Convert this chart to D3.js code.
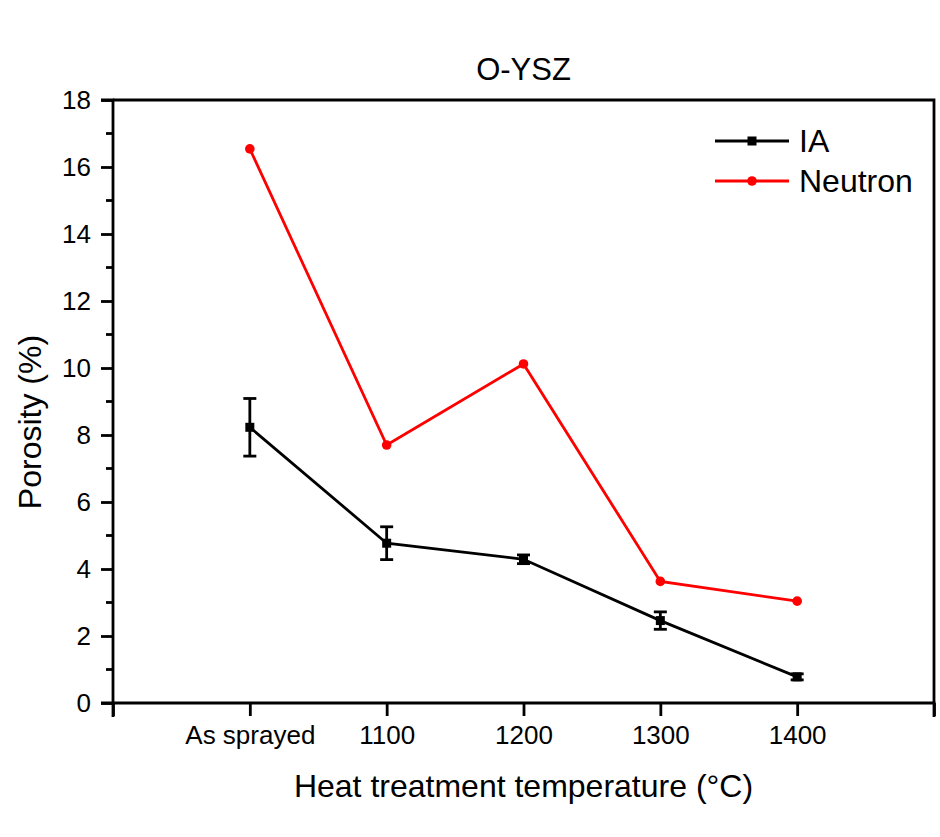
<!DOCTYPE html>
<html>
<head>
<meta charset="utf-8">
<script src="https://cdn.jsdelivr.net/npm/d3@7"></script>
<style>
  body { margin: 0; background: #fff; }
  svg { display: block; font-family: Arial, "Liberation Sans", sans-serif; }
</style>
</head>
<body>
<div id="chart"></div>
<script>
// categories along the x axis
const categories = ['As sprayed', '1100', '1200', '1300', '1400'];

// porosity (%) values
const iaValues = [8.23, 4.77, 4.29, 2.46, 0.78];
const iaErrors = [0.86, 0.49, 0.13, 0.26, 0.09];
const neutronValues = [16.54, 7.70, 10.12, 3.63, 3.04];

const yTicks = [0, 2, 4, 6, 8, 10, 12, 14, 16, 18];

const width = 940, height = 837;
const plotLeft = 113, plotRight = 934, plotTop = 100, plotBottom = 703;
const lw = 2.8;

let svg = d3.select('#chart')
    .append('svg')
    .attr('width', width)
    .attr('height', height);

// index 1..5 for categories, 0 and 6 are the frame ends
let x = d3.scaleLinear().domain([0, categories.length + 1]).range([plotLeft, plotRight]);
let y = d3.scaleLinear().domain([0, 18]).range([plotBottom, plotTop]);

// frame (top + right, no ticks)
svg.append('path')
    .attr('d', `M${plotLeft},${plotTop}H${plotRight}V${plotBottom}`)
    .attr('fill', 'none')
    .attr('stroke', '#000')
    .attr('stroke-width', lw);

// y axis, major ticks
let yAxis = d3.axisLeft(y)
    .tickValues(yTicks)
    .tickSize(12)
    .tickPadding(10)
    .tickFormat(d3.format('d'));

let gy = svg.append('g')
    .attr('transform', `translate(${plotLeft},0)`)
    .call(yAxis);

// minor y ticks
gy.selectAll('.minor')
    .data(d3.range(1, 18, 2))
    .enter()
    .append('line')
    .attr('class', 'minor')
    .attr('x1', -7).attr('x2', 0)
    .attr('y1', d => y(d)).attr('y2', d => y(d));

// x axis
let xAxis = d3.axisBottom(x)
    .tickValues(d3.range(0, categories.length + 2))
    .tickSize(13)
    .tickPadding(10)
    .tickFormat(d => (d >= 1 && d <= categories.length) ? categories[d - 1] : '');

let gx = svg.append('g')
    .attr('transform', `translate(0,${plotBottom})`)
    .call(xAxis);

[gx, gy].forEach(g => {
    g.select('.domain').attr('stroke-width', lw);
    g.selectAll('line').attr('stroke', '#000').attr('stroke-width', lw);
    g.selectAll('text').attr('fill', '#000').style('font-size', '26px')
        .style('font-family', 'Arial, "Liberation Sans", sans-serif');
});
// y-axis domain runs down past the x axis like the frame corner
gy.select('.domain').attr('d', `M-12,${plotTop}H0V${plotBottom + 14}`);
gx.select('.domain').attr('d', `M${plotLeft - 12},0H${plotRight}V14`);

// lines
let line = d3.line()
    .x((d, i) => x(i + 1))
    .y(d => y(d));

svg.append('path')
    .datum(neutronValues)
    .attr('d', line)
    .attr('fill', 'none')
    .attr('stroke', '#ff0000')
    .attr('stroke-width', lw);

svg.append('path')
    .datum(iaValues)
    .attr('d', line)
    .attr('fill', 'none')
    .attr('stroke', '#000')
    .attr('stroke-width', lw);

// error bars for IA
let eb = svg.append('g').attr('class', 'errorbars')
    .selectAll('g')
    .data(iaValues)
    .enter()
    .append('g');

eb.append('line')
    .attr('x1', (d, i) => x(i + 1)).attr('x2', (d, i) => x(i + 1))
    .attr('y1', (d, i) => y(d + iaErrors[i]))
    .attr('y2', (d, i) => y(d - iaErrors[i]));
eb.append('line')
    .attr('x1', (d, i) => x(i + 1) - 6.5).attr('x2', (d, i) => x(i + 1) + 6.5)
    .attr('y1', (d, i) => y(d + iaErrors[i]))
    .attr('y2', (d, i) => y(d + iaErrors[i]));
eb.append('line')
    .attr('x1', (d, i) => x(i + 1) - 6.5).attr('x2', (d, i) => x(i + 1) + 6.5)
    .attr('y1', (d, i) => y(d - iaErrors[i]))
    .attr('y2', (d, i) => y(d - iaErrors[i]));
eb.selectAll('line').attr('stroke', '#000').attr('stroke-width', lw);

// markers
svg.append('g')
    .selectAll('rect')
    .data(iaValues)
    .enter()
    .append('rect')
    .attr('x', (d, i) => x(i + 1) - 4.5)
    .attr('y', d => y(d) - 4.5)
    .attr('width', 9)
    .attr('height', 9)
    .attr('fill', '#000');

svg.append('g')
    .selectAll('circle')
    .data(neutronValues)
    .enter()
    .append('circle')
    .attr('cx', (d, i) => x(i + 1))
    .attr('cy', d => y(d))
    .attr('r', 4.8)
    .attr('fill', '#ff0000');

// legend
let legend = svg.append('g').attr('class', 'legend');
let legendItems = [
    { name: 'IA', color: '#000', shape: 'rect' },
    { name: 'Neutron', color: '#ff0000', shape: 'circle' }
];
legendItems.forEach((item, i) => {
    let ly = 141 + i * 40;
    legend.append('line')
        .attr('x1', 715).attr('x2', 789)
        .attr('y1', ly).attr('y2', ly)
        .attr('stroke', item.color)
        .attr('stroke-width', lw);
    if (item.shape === 'rect') {
        legend.append('rect')
            .attr('x', 752 - 4.5).attr('y', ly - 4.5)
            .attr('width', 9).attr('height', 9)
            .attr('fill', item.color);
    } else {
        legend.append('circle')
            .attr('cx', 752).attr('cy', ly).attr('r', 4.8)
            .attr('fill', item.color);
    }
    legend.append('text')
        .attr('x', 799)
        .attr('y', ly + 11)
        .style('font-size', '32px')
        .text(item.name);
});

// title
svg.append('text')
    .attr('x', (plotLeft + plotRight) / 2)
    .attr('y', 80)
    .attr('text-anchor', 'middle')
    .style('font-size', '31px')
    .text('O-YSZ');

// axis titles
svg.append('text')
    .attr('x', (plotLeft + plotRight) / 2)
    .attr('y', 797)
    .attr('text-anchor', 'middle')
    .style('font-size', '32px')
    .text('Heat treatment temperature (°C)');

svg.append('text')
    .attr('transform', 'translate(41,422) rotate(-90)')
    .attr('text-anchor', 'middle')
    .style('font-size', '32px')
    .text('Porosity (%)');
</script>
</body>
</html>
